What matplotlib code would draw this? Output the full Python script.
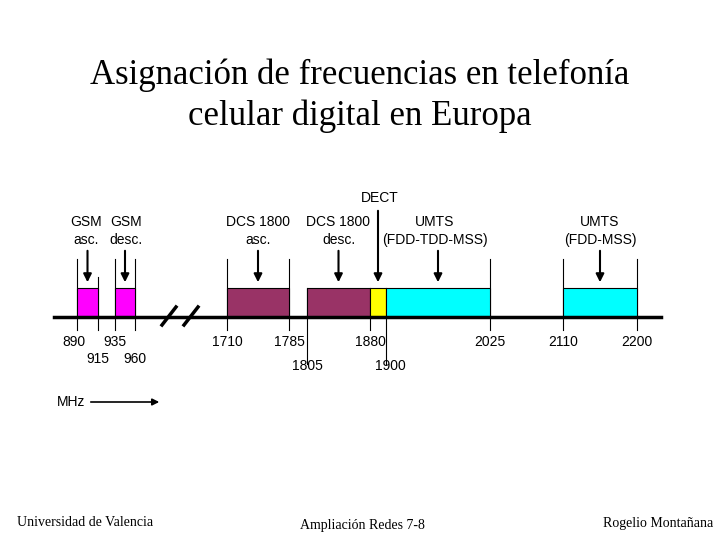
import matplotlib
matplotlib.use("Agg")
import matplotlib.pyplot as plt
import numpy as np

# Frequencies (MHz) and their layout positions on the (broken) axis
freqs = [890, 915, 935, 960, 1710, 1785, 1805, 1880, 1900, 2025, 2110, 2200]
xpos = [77, 98, 115, 135, 227, 289, 307, 370, 386, 490, 563, 637]
band_starts = [890, 935, 1710, 1805, 1880, 1900, 2110]
band_ends = [915, 960, 1785, 1880, 1900, 2025, 2200]
band_colors = ["#FF00FF", "#FF00FF", "#993366", "#993366", "#FFFF00", "#00FFFF", "#00FFFF"]
band_labels = ["GSM\nasc.", "GSM\ndesc.", "DCS 1800\nasc.", "DCS 1800\ndesc.", "DECT",
               "UMTS\n(FDD-TDD-MSS)", "UMTS\n(FDD-MSS)"]

X = dict(zip(freqs, xpos))
fig = plt.figure(figsize=(7.2, 5.4), dpi=100)
ax = fig.add_axes([0, 0, 1, 1])
ax.set_xlim(0, 720); ax.set_ylim(540, 0); ax.axis("off")

LY, TOP = 317, 288
sans = "Liberation Sans"; serif = "Liberation Serif"
FS = 10
ax.plot([54, 661], [LY, LY], color="black", lw=2.5, zorder=3)
# break marks
for x0 in (162, 184):
    ax.plot([x0, x0 + 14], [325, 307], color="black", lw=2.5)

tall = {890, 935, 960, 1710, 1785, 2025, 2110, 2200}
for f in freqs:
    x = X[f]
    top = 259 if f in tall else (277 if f == 915 else TOP)
    bottom = 364 if f in (1805, 1900) else 330
    ax.plot([x, x], [top, bottom], color="black", lw=0.8, zorder=1)
    if f in (915, 960):
        ax.text(x, 359, str(f), ha="center", va="center", fontsize=FS, family=sans)
    elif f in (1805, 1900):
        ax.text(x + (0 if f == 1805 else 4), 366, str(f), ha="center", va="center", fontsize=FS, family=sans)
    else:
        ax.text(x - (3 if f == 890 else 0), 342, str(f), ha="center", va="center", fontsize=FS, family=sans)

for s, e, c, lab in zip(band_starts, band_ends, band_colors, band_labels):
    x0, x1 = X[s], X[e]
    ax.add_patch(plt.Rectangle((x0, TOP), x1 - x0, LY - TOP, facecolor=c, edgecolor="black", lw=0.8, zorder=2))
    xm = (x0 + x1) / 2
    if lab == "DECT":
        ax.annotate("", xy=(xm, 285), xytext=(xm, 208),
                    arrowprops=dict(arrowstyle="-|>", color="black", lw=1.5, mutation_scale=12))
        ax.text(xm + 2, 198, lab, ha="center", va="center", fontsize=FS, family=sans)
    else:
        ax.annotate("", xy=(xm, 285), xytext=(xm, 248),
                    arrowprops=dict(arrowstyle="-|>", color="black", lw=1.5, mutation_scale=12))
        tx = {"GSM\nasc.": 86, "GSM\ndesc.": 126, "UMTS\n(FDD-TDD-MSS)": 435}.get(lab, xm)
        ax.text(tx, 231, lab, ha="center", va="center", fontsize=FS, family=sans, linespacing=1.45)

ax.text(57, 402, "MHz", ha="left", va="center", fontsize=FS, family=sans)
ax.annotate("", xy=(162, 402), xytext=(88, 402),
            arrowprops=dict(arrowstyle="-|>", color="black", lw=1.2, mutation_scale=10))

ax.text(360, 96, "Asignación de frecuencias en telefonía\ncelular digital en Europa",
        ha="center", va="center", fontsize=25, family=serif, linespacing=1.3)
ax.text(17, 523, "Universidad de Valencia", ha="left", va="center", fontsize=10, family=serif)
ax.text(362, 526, "Ampliación Redes 7-8", ha="center", va="center", fontsize=10, family=serif)
ax.text(713, 524, "Rogelio Montañana", ha="right", va="center", fontsize=10, family=serif)

fig.savefig("out.png", dpi=100)
